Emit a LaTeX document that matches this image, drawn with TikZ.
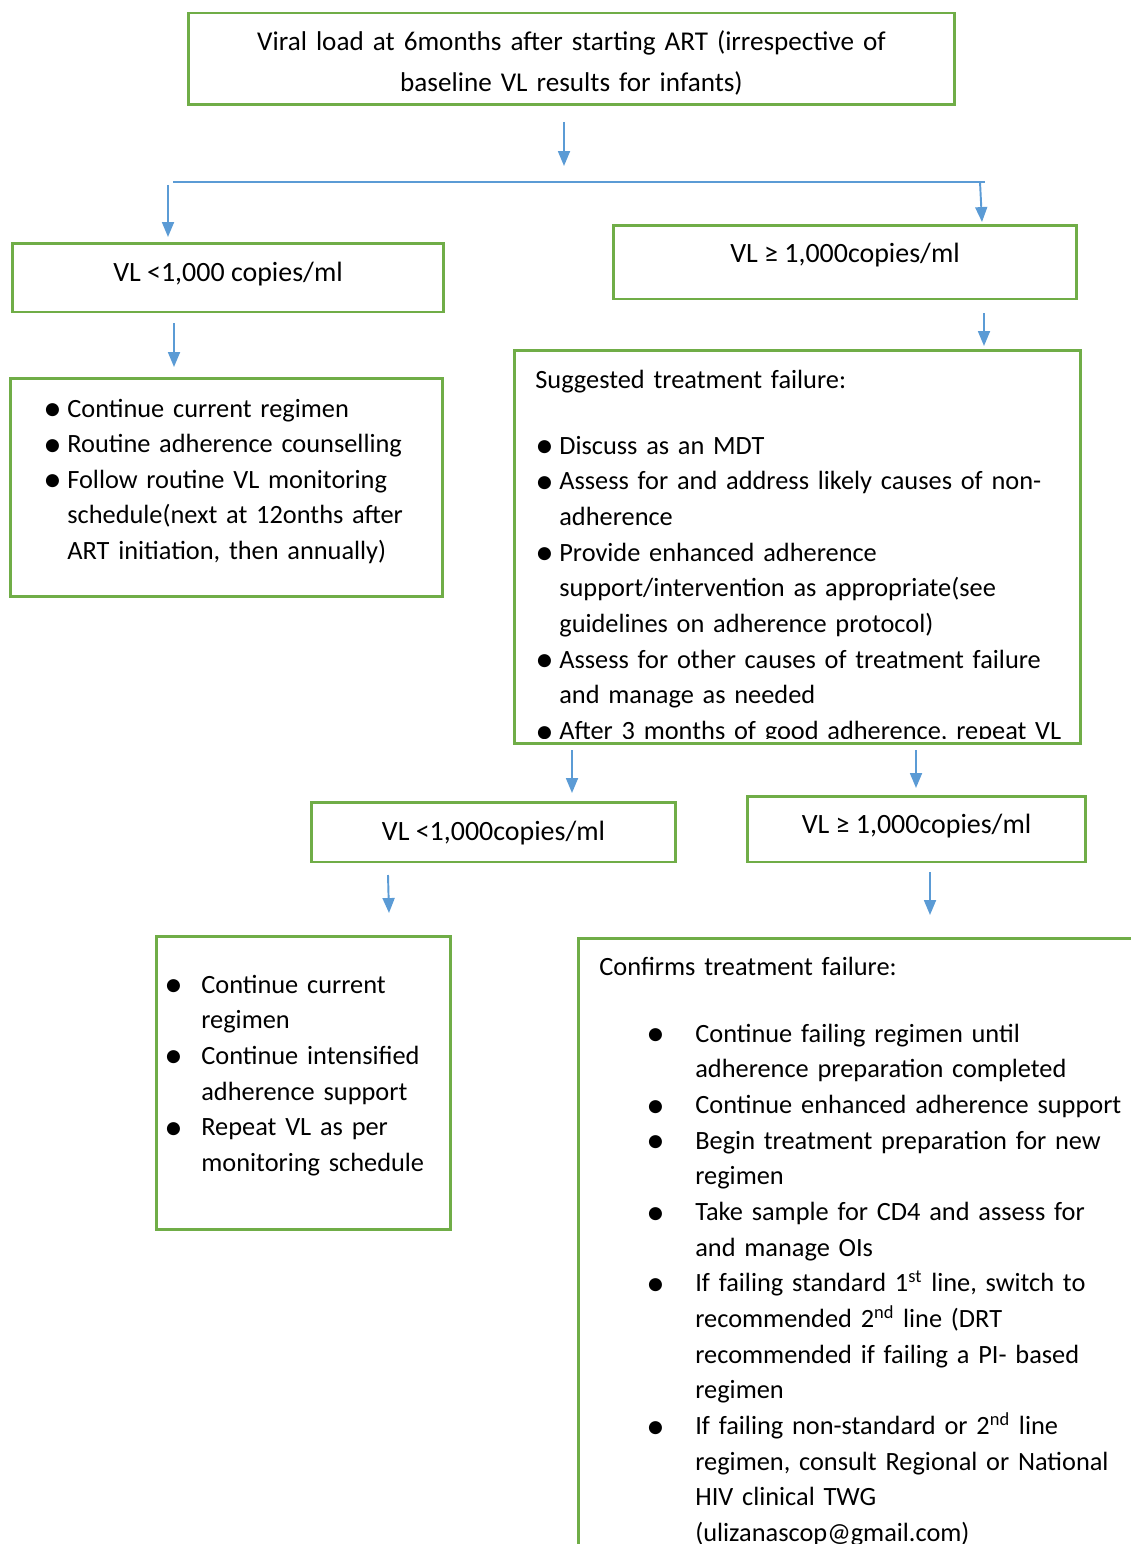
\documentclass[tikz,border=0pt]{standalone}
\usepackage{fontspec}
\setmainfont{Carlito}
\usepackage{tikz}
\usetikzlibrary{arrows.meta,positioning}
\definecolor{verde}{RGB}{112,173,71}
\definecolor{azul}{RGB}{91,155,213}
\tikzstyle{box}=[draw=verde, line width=1.7pt, inner sep=0pt,
                 outer sep=0pt]
\tikzstyle{arr}=[azul, line width=1.1pt,
                 -{Triangle[width=6.8pt,length=8.5pt]}]
\tikzstyle{txt}=[inner sep=0pt, font=\fontsize{15.9}{20.3}\selectfont]
\tikzstyle{lst}=[inner sep=0pt, font=\fontsize{15}{20.3}\selectfont,
                 text width=13cm, align=left, anchor=base west]
\newcommand{\bigdot}{\raisebox{-2pt}{\scalebox{1.4}{\textbullet}}}
\newcommand{\bitem}[3]{\noindent\hangindent=\dimexpr#1+#2\relax
  \hangafter=1\hspace*{#1}\makebox[#2][l]{\bigdot}#3\par}

\begin{document}
\begin{tikzpicture}[x=0.02cm,y=-0.02cm]
    \useasboundingbox (0,0) rectangle (1131,1544);
    \clip (0,0) rectangle (1131,1544);

    % boxes
    \node (top) at (571.5,59) [box, minimum width=15.34cm, minimum height=1.84cm] {};
    \node (lo) at (228,277.5) [box, minimum width=8.64cm, minimum height=1.38cm] {};
    \node (hi) at (845,262) [box, minimum width=9.28cm, minimum height=1.48cm] {};
    \node (keep) at (226.5,487.5) [box, minimum width=8.66cm, minimum height=4.38cm] {};
    \node (susp) at (797.5,547) [box, minimum width=11.34cm, minimum height=7.88cm] {};
    \node (lo2) at (493.5,832) [box, minimum width=7.3cm, minimum height=1.2cm] {};
    \node (hi2) at (916.5,829) [box, minimum width=6.78cm, minimum height=1.32cm] {};
    \node (keep2) at (303.5,1083) [box, minimum width=5.9cm, minimum height=5.88cm] {};
    \node (fail) at (889,1269) [box, minimum width=12.44cm, minimum height=13.24cm] {};

    % texts
    \node (ttop) at (571.5,51) [txt, font=\fontsize{15.45}{20.3}\selectfont,
                                text width=15cm, align=center, anchor=base]
        {Viral load at 6months after starting ART (irrespective of\\[2.5pt]
         baseline VL results for infants)};
    \node (tlo) at (228,281.5) [txt, anchor=base] {VL <1,000 copies/ml};
    \node (thi) at (845,262) [txt, anchor=base] {VL ≥ 1,000copies/ml};
    \node (tlo2) at (493.5,840) [txt, anchor=base] {VL <1,000copies/ml};
    \node (thi2) at (916.5,833) [txt, anchor=base] {VL ≥ 1,000copies/ml};

    \node (tkeep) at (43,417) [lst] {%
        \bitem{0pt}{0.48cm}{Continue current regimen}
        \bitem{0pt}{0.48cm}{Routine adherence counselling}
        \bitem{0pt}{0.48cm}{Follow routine VL monitoring\newline
            schedule(next at 12onths after\newline ART initiation, then annually)}};

    \begin{scope}
        \clip (516,352) rectangle (1079,738);
        \node (tsusp) at (535,388) [lst] {%
            Suggested treatment failure:\par\vspace{0.61cm}
            \bitem{0cm}{0.48cm}{Discuss as an MDT}
            \bitem{0cm}{0.48cm}{Assess for and address likely causes of non-\newline adherence}
            \bitem{0cm}{0.48cm}{Provide enhanced adherence\newline
                support/intervention as appropriate(see\newline guidelines on adherence protocol)}
            \bitem{0cm}{0.48cm}{Assess for other causes of treatment failure\newline and manage as needed}
            \bitem{0cm}{0.48cm}{After 3 months of good adherence, repeat VL}};
    \end{scope}

    \node (tkeep2) at (164,993) [lst] {%
        \bitem{0pt}{0.74cm}{Continue current\newline regimen}
        \bitem{0pt}{0.74cm}{Continue intensified\newline adherence support}
        \bitem{0pt}{0.74cm}{Repeat VL as per\newline monitoring schedule}};

    \node (tfail) at (599,975) [lst] {%
        Confirms treatment failure:\par\vspace{0.63cm}
        \bitem{0.94cm}{0.98cm}{Continue failing regimen until\newline adherence preparation completed}
        \bitem{0.94cm}{0.98cm}{Continue enhanced adherence support}
        \bitem{0.94cm}{0.98cm}{Begin treatment preparation for new\newline regimen}
        \bitem{0.94cm}{0.98cm}{Take sample for CD4 and assess for\newline and manage OIs}
        \bitem{0.94cm}{0.98cm}{If failing standard 1\textsuperscript{st} line, switch to\newline
            recommended 2\textsuperscript{nd} line (DRT\newline recommended if failing a PI- based\newline regimen}
        \bitem{0.94cm}{0.98cm}{If failing non-standard or 2\textsuperscript{nd} line\newline
            regimen, consult Regional or National\newline HIV clinical TWG\newline (ulizanascop@gmail.com)}};

    % connectors
    \coordinate (s1) at (564,122);   \coordinate (e1) at (564,166);
    \coordinate (bl) at (173,182);   \coordinate (br) at (985,182);
    \coordinate (s2) at (168,185);   \coordinate (e2) at (168,237);
    \coordinate (s3) at (980,182);   \coordinate (e3) at (982,222);
    \coordinate (s4) at (174,323);   \coordinate (e4) at (174,367);
    \coordinate (s5) at (984,313);   \coordinate (e5) at (984,346);
    \coordinate (s6) at (572,750);   \coordinate (e6) at (572,793);
    \coordinate (s7) at (916,750);   \coordinate (e7) at (916,788);
    \coordinate (s8) at (388,875);   \coordinate (e8) at (389,913);
    \coordinate (s9) at (930,872);   \coordinate (e9) at (930,915);

    \draw [azul, line width=1.1pt] (bl) -- (br);
    \foreach \i/\j in {s1/e1,s2/e2,s3/e3,s4/e4,s5/e5,s6/e6,s7/e7,s8/e8,s9/e9}
        \draw [arr] (\i) -- (\j);
\end{tikzpicture}
\end{document}
